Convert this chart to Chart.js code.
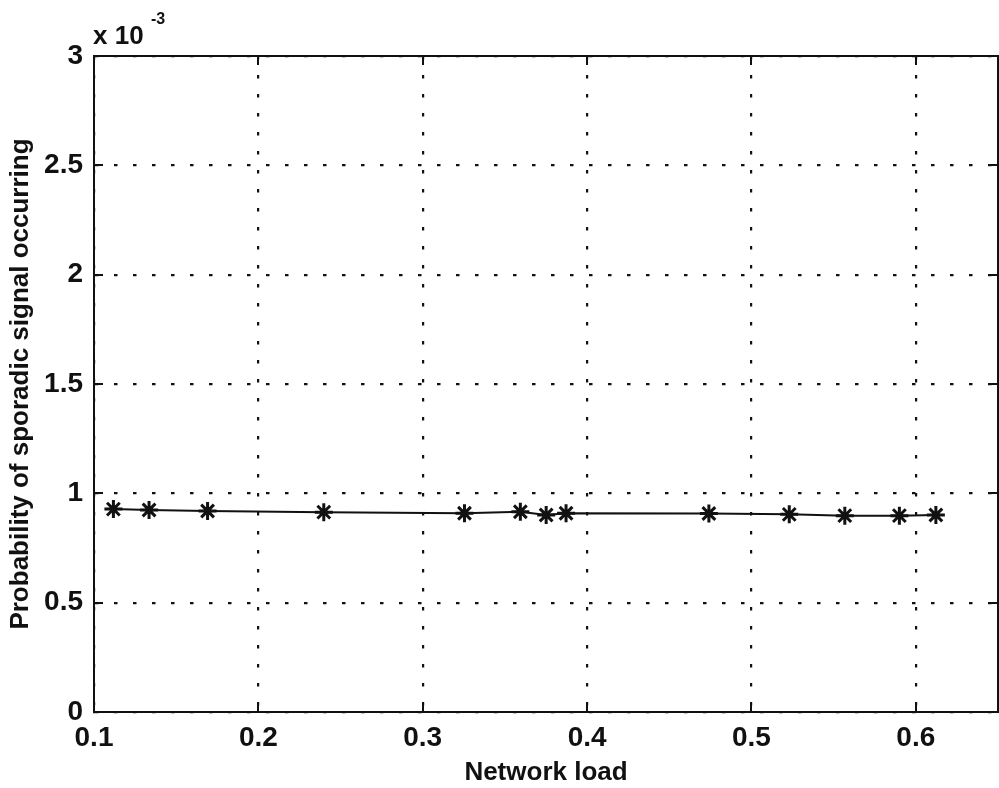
<!DOCTYPE html>
<html>
<head>
<meta charset="utf-8">
<title>Sporadic signal probability</title>
<script src="https://cdn.jsdelivr.net/npm/chart.js@4"></script>
<style>
  html, body { margin: 0; padding: 0; background: #fff; overflow: hidden; }
  #wrap { position: relative; width: 1010px; height: 788px; }
</style>
</head>
<body>
<div id="wrap"><canvas id="loadChart"></canvas></div>
<script>
// network load on x, probability in units of 1e-3 on y
const networkLoad = [0.1118, 0.1335, 0.1691, 0.2398, 0.3254, 0.3594, 0.3751, 0.3872, 0.4741, 0.5230, 0.5568, 0.5900, 0.6122];
const sporadicProb = [0.928, 0.924, 0.919, 0.914, 0.909, 0.916, 0.901, 0.909, 0.908, 0.904, 0.898, 0.898, 0.901];
const xTicks = [0.1, 0.2, 0.3, 0.4, 0.5, 0.6];
const yTicks = [0, 0.5, 1, 1.5, 2, 2.5, 3];

const FONT = "'Liberation Sans', Arial, Helvetica, sans-serif";
const INK = '#111';

// matlab style: inward tick marks, closed box, exponent note
const axesDecor = {
    id: 'axesDecor',
    afterDraw(chart) {
        const ctx = chart.ctx;
        const area = chart.chartArea;
        const xs = chart.scales.x, ys = chart.scales.y;
        const len = 9;
        ctx.save();
        ctx.strokeStyle = INK;
        ctx.lineWidth = 2;
        ctx.beginPath();
        ctx.moveTo(area.left, area.top);
        ctx.lineTo(area.right, area.top);
        ctx.lineTo(area.right, area.bottom);
        xTicks.forEach(v => {
            const px = Math.round(xs.getPixelForValue(v));
            ctx.moveTo(px, area.bottom);
            ctx.lineTo(px, area.bottom - len);
            ctx.moveTo(px, area.top);
            ctx.lineTo(px, area.top + len);
        });
        yTicks.forEach(v => {
            const py = Math.round(ys.getPixelForValue(v));
            ctx.moveTo(area.left, py);
            ctx.lineTo(area.left + len, py);
            ctx.moveTo(area.right, py);
            ctx.lineTo(area.right - len, py);
        });
        ctx.stroke();

        ctx.fillStyle = INK;
        ctx.textBaseline = 'alphabetic';
        ctx.textAlign = 'left';
        ctx.font = 'bold 26px ' + FONT;
        ctx.fillText('x 10', area.left - 1, 44);
        ctx.font = 'bold 16px ' + FONT;
        ctx.fillText('-3', area.left + 57, 24);
        ctx.restore();
    }
};

new Chart(document.getElementById('loadChart'), {
    type: 'line',
    data: {
        datasets: [{
            data: networkLoad.map((x, i) => ({ x: x, y: sporadicProb[i] })),
            borderColor: INK,
            borderWidth: 2,
            pointStyle: 'star',
            pointRadius: 9,
            pointBorderWidth: 3,
            pointBorderColor: INK,
            pointBackgroundColor: INK,
            tension: 0,
            fill: false
        }]
    },
    options: {
        responsive: true,
        maintainAspectRatio: false,
        animation: false,
        devicePixelRatio: 1,
        layout: { padding: { top: 56, right: 5.5, bottom: 0, left: 0 } },
        plugins: {
            legend: { display: false },
            tooltip: { enabled: false }
        },
        scales: {
            x: {
                type: 'linear',
                min: 0.1,
                max: 0.65,
                afterBuildTicks: s => { s.ticks = xTicks.map(v => ({ value: v })); },
                afterFit: s => { s.height = 76; },
                ticks: {
                    color: INK,
                    font: { family: FONT, size: 28, weight: 'bold' },
                    padding: 9,
                    maxRotation: 0,
                    callback: v => String(v)
                },
                grid: { color: INK, lineWidth: 2.2, drawTicks: false },
                border: { color: INK, width: 2, dash: [3.5, 15.5] },
                title: {
                    display: true,
                    text: 'Network load',
                    color: INK,
                    font: { family: FONT, size: 26, weight: 'bold' },
                    padding: { top: 1, bottom: 0 }
                }
            },
            y: {
                type: 'linear',
                min: 0,
                max: 3,
                afterBuildTicks: s => { s.ticks = yTicks.map(v => ({ value: v })); },
                afterFit: s => { s.width = 94; },
                ticks: {
                    color: INK,
                    font: { family: FONT, size: 28, weight: 'bold' },
                    padding: 11,
                    callback: v => String(v)
                },
                grid: { color: INK, lineWidth: 2.2, drawTicks: false },
                border: { color: INK, width: 2, dash: [3.5, 15.5] },
                title: {
                    display: true,
                    text: 'Probability of sporadic signal occurring',
                    color: INK,
                    font: { family: FONT, size: 26, weight: 'bold' },
                    padding: { top: 5, bottom: 0 }
                }
            }
        }
    },
    plugins: [axesDecor]
});
</script>
</body>
</html>
